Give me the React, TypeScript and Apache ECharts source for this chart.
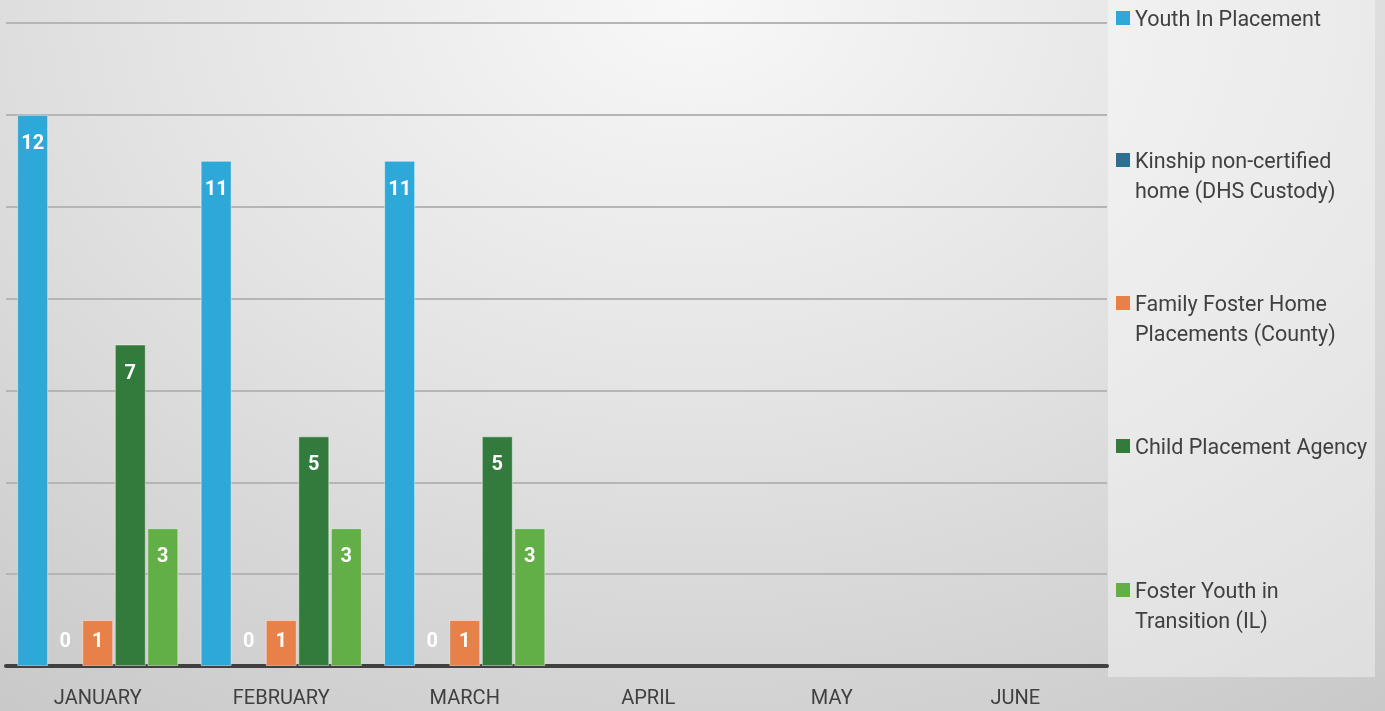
import React, { useEffect, useRef } from "react";
import * as echarts from "echarts";

const months = ["JANUARY", "FEBRUARY", "MARCH", "APRIL", "MAY", "JUNE"];
const youthInPlacement = [12, 11, 11, null, null, null];
const kinship = [0, 0, 0, null, null, null];
const familyFoster = [1, 1, 1, null, null, null];
const childPlacement = [7, 5, 5, null, null, null];
const fosterYouth = [3, 3, 3, null, null, null];

const seriesNames = [
  "Youth In Placement",
  "Kinship non-certified home (DHS Custody)",
  "Family Foster Home Placements (County)",
  "Child Placement Agency",
  "Foster Youth in Transition (IL)",
];
const legendLabels = [
  "Youth In Placement",
  "Kinship non-certified\nhome (DHS Custody)",
  "Family Foster Home\nPlacements (County)",
  "Child Placement Agency",
  "Foster Youth in\nTransition (IL)",
];
const colors = ["#2ea7d9", "#2e6e8e", "#e8804a", "#337b3c", "#62ae47"];
const yTicks = { min: 0, max: 14, interval: 2 };

const FONT = "Roboto, 'Noto Sans', sans-serif";

function toData(values: (number | null)[]) {
  return values.map((v) => {
    if (v === null) return { value: null, label: { show: false } };
    if (v === 0)
      return {
        value: v,
        itemStyle: { borderWidth: 0 },
        label: { position: "top", distance: 16 },
      };
    if (v === 1) return { value: v, label: { position: "insideTop", distance: 10 } };
    return { value: v };
  });
}

export default function App() {
  const ref = useRef<HTMLDivElement>(null);
  useEffect(() => {
    if (!ref.current) return;
    const chart = echarts.init(ref.current, undefined, { renderer: "svg" });
    const allValues = [youthInPlacement, kinship, familyFoster, childPlacement, fosterYouth];
    const legendTops = [3, 145, 288, 431, 575];
    const twoLineIcon = "path://M0 0H14V14H0Z M0 43.9H0.1V44H0Z";
    const legends = seriesNames.map((name, i) => {
      const twoLine = legendLabels[i].includes("\n");
      return {
        show: true,
        data: [name],
        left: 1116,
        top: legendTops[i],
        orient: "vertical",
        padding: 0,
        selectedMode: false,
        icon: twoLine ? twoLineIcon : "rect",
        itemWidth: 14,
        itemHeight: twoLine ? 44 : 14,
        itemStyle: { borderWidth: 0 },
        formatter: () => legendLabels[i],
        textStyle: { fontSize: 21.5, color: "#404040", lineHeight: 30, fontFamily: FONT },
      };
    });
    chart.setOption({
      animation: false,
      backgroundColor: "transparent",
      graphic: [
        {
          type: "rect",
          z: -10,
          shape: { x: 1108, y: 0, width: 267, height: 677 },
          style: { fill: "rgba(255,255,255,0.38)" },
          silent: true,
        },
      ],
      legend: legends,
      grid: { left: 6, right: 278, top: 23, bottom: 45, containLabel: false },
      xAxis: {
        type: "category",
        data: months,
        axisLine: { show: true, lineStyle: { color: "#404040", width: 4 } },
        axisTick: { show: false },
        axisLabel: { color: "#404040", fontSize: 20, margin: 21, fontFamily: FONT },
      },
      yAxis: {
        type: "value",
        min: yTicks.min,
        max: yTicks.max,
        interval: yTicks.interval,
        axisLine: { show: false },
        axisTick: { show: false },
        axisLabel: { show: false },
        splitLine: { lineStyle: { color: "#b5b5b5", width: 2 } },
      },
      series: seriesNames.map((name, i) => ({
        name,
        type: "bar",
        data: toData(allValues[i]),
        barWidth: 31,
        barGap: "5%",
        itemStyle: {
          color: colors[i],
          borderColor: "rgba(255,255,255,0.45)",
          borderWidth: 1,
        },
        label: {
          show: true,
          position: "insideTop",
          distance: 17,
          color: "#ffffff",
          fontSize: 20,
          fontWeight: "bold",
          fontFamily: FONT,
        },
      })),
    });
    return () => chart.dispose();
  }, []);
  return (
    <div
      style={{
        position: "fixed",
        left: 0,
        top: 0,
        width: 1385,
        height: 711,
        background:
          "radial-gradient(ellipse 90% 130% at 50% 0%, #f8f8f8 0%, #e3e3e3 45%, #c6c6c6 100%)",
      }}
    >
      <div ref={ref} style={{ width: 1385, height: 711 }} />
    </div>
  );
}
